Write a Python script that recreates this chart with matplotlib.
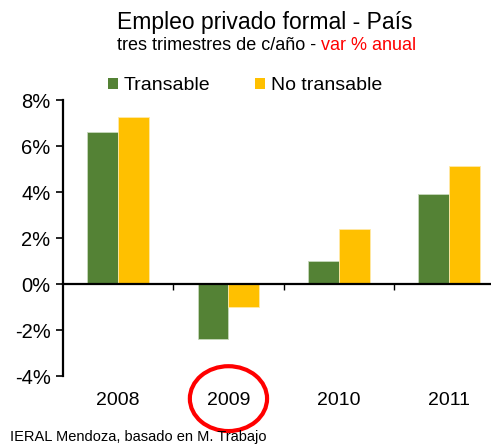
import numpy as np
import matplotlib
matplotlib.use("Agg")
import matplotlib.pyplot as plt
from matplotlib.patches import Ellipse, Patch

# data
years = ["2008", "2009", "2010", "2011"]
transable = [6.6, -2.4, 1.0, 3.9]
no_transable = [7.25, -1.0, 2.4, 5.15]
series_names = ["Transable", "No transable"]

green = "#548235"
yellow = "#FFC000"

plt.rcParams["font.family"] = ["Liberation Sans", "DejaVu Sans"]

fig = plt.figure(figsize=(4.91, 4.44), dpi=100)
ax = fig.add_axes([63 / 491, 68 / 444, 428 / 491, 276 / 444])

x = np.arange(len(years))
w = 0.28
ax.bar(x - w / 2, transable, w, color=green, edgecolor="#c8d8bc", linewidth=0.6, label=series_names[0])
ax.bar(x + w / 2, no_transable, w, color=yellow, edgecolor="#ffe9a8", linewidth=0.6, label=series_names[1])

ax.set_ylim(-4, 8)
ax.set_xlim(-0.5, 3.38)
ax.set_yticks(np.arange(-4, 9, 2))
ax.set_yticklabels([f"{v}%" for v in range(-4, 9, 2)])
ax.tick_params(axis="y", direction="out", length=5, width=1.2, labelsize=14.5, pad=4)

# x axis line at zero, small tick marks between categories
ax.spines["bottom"].set_position(("data", 0))
ax.spines["bottom"].set_linewidth(1.6)
ax.spines["left"].set_linewidth(1.6)
ax.spines["top"].set_visible(False)
ax.spines["right"].set_visible(False)
ax.set_xticks(x[:-1] + 0.5)
ax.set_xticklabels([])
ax.tick_params(axis="x", direction="out", length=4, width=1)

for i, yr in enumerate(years):
    ax.text(i, -0.087, yr, transform=ax.get_xaxis_transform(), ha="center", va="center", fontsize=14)

# red circle around 2009
ax.add_patch(Ellipse((1, -0.082), 0.70, 0.235, transform=ax.get_xaxis_transform(),
                     fill=False, edgecolor="#ff0000", linewidth=3, clip_on=False))

# titles
fig.text(265 / 491, 1 - 22 / 444, "Empleo privado formal - País", ha="center", va="center", fontsize=16.5)
fig.text(316 / 491, 1 - 45 / 444, "tres trimestres de c/año -", ha="right", va="center", fontsize=13)
fig.text(321 / 491, 1 - 45 / 444, "var % anual", ha="left", va="center", fontsize=13, color="#ff0000")

handles = [Patch(facecolor=green), Patch(facecolor=yellow)]
fig.legend(handles, series_names, loc="center", bbox_to_anchor=(245 / 491, 1 - 86 / 444), ncol=2,
           frameon=False, fontsize=14, handlelength=0.5, handleheight=0.5, handletextpad=0.3,
           columnspacing=2.3)

fig.text(10 / 491, 1 - 437 / 444, "IERAL Mendoza, basado en M. Trabajo", ha="left", va="center", fontsize=10.5)

fig.savefig("out.png", dpi=100)
